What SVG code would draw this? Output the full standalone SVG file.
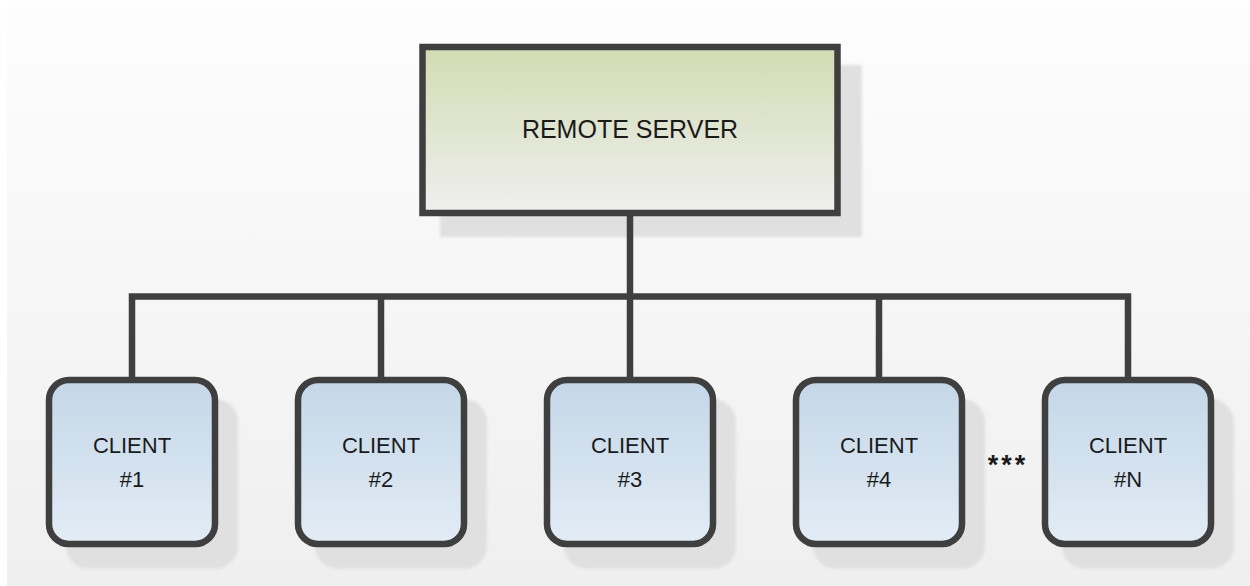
<svg xmlns="http://www.w3.org/2000/svg" width="1250" height="586" viewBox="0 0 1250 586">
<defs>
<linearGradient id="bg" x1="0" y1="0" x2="0" y2="1"><stop offset="0" stop-color="#fdfdfd"/><stop offset="1" stop-color="#efefef"/></linearGradient>
<linearGradient id="gServer" x1="0" y1="0" x2="0" y2="1"><stop offset="0" stop-color="#d2dcb2"/><stop offset="1" stop-color="#efefef"/></linearGradient>
<linearGradient id="gClient" x1="0" y1="0" x2="0" y2="1"><stop offset="0" stop-color="#c4d7e8"/><stop offset="1" stop-color="#e2ecf5"/></linearGradient>
<filter id="soft" x="-10%" y="-10%" width="120%" height="120%"><feGaussianBlur stdDeviation="1.5"/></filter>
</defs>
<style>
.shadow{fill:#e0e0e0;filter:url(#soft)}
.box{stroke:#3f3f3f;stroke-width:6.5}
.server{fill:url(#gServer)}
.client{fill:url(#gClient)}
.lbl{font-family:"Liberation Sans",Arial,sans-serif;fill:#1a1a1a;text-anchor:middle}
.conn{fill:none;stroke:#3f3f3f;stroke-width:6.5;stroke-linecap:butt;stroke-linejoin:miter}
</style>
<rect x="0" y="0" width="1250" height="586" fill="#ffffff"/>
<rect x="7" y="7" width="1243" height="579" fill="url(#bg)"/>

<g id="server">
<rect class="shadow" x="440" y="65" width="422" height="172"/>
<rect class="box server" x="422.5" y="47" width="415" height="166"/>
<text class="lbl" x="630" y="138" font-size="25">REMOTE SERVER</text>
</g>

<g id="client1">
<rect class="shadow" x="66" y="399" width="172" height="170" rx="23"/>
<rect class="box client" x="49" y="380" width="166" height="164" rx="20"/>
<text class="lbl" x="132" y="453" font-size="22">CLIENT</text>
<text class="lbl" x="132" y="487" font-size="22">#1</text>
</g>
<g id="client2">
<rect class="shadow" x="315" y="399" width="172" height="170" rx="23"/>
<rect class="box client" x="298" y="380" width="166" height="164" rx="20"/>
<text class="lbl" x="381" y="453" font-size="22">CLIENT</text>
<text class="lbl" x="381" y="487" font-size="22">#2</text>
</g>
<g id="client3">
<rect class="shadow" x="564" y="399" width="172" height="170" rx="23"/>
<rect class="box client" x="547" y="380" width="166" height="164" rx="20"/>
<text class="lbl" x="630" y="453" font-size="22">CLIENT</text>
<text class="lbl" x="630" y="487" font-size="22">#3</text>
</g>
<g id="client4">
<rect class="shadow" x="813" y="399" width="172" height="170" rx="23"/>
<rect class="box client" x="796" y="380" width="166" height="164" rx="20"/>
<text class="lbl" x="879" y="453" font-size="22">CLIENT</text>
<text class="lbl" x="879" y="487" font-size="22">#4</text>
</g>
<g id="clientN">
<rect class="shadow" x="1062" y="399" width="172" height="170" rx="23"/>
<rect class="box client" x="1045" y="380" width="166" height="164" rx="20"/>
<text class="lbl" x="1128" y="453" font-size="22">CLIENT</text>
<text class="lbl" x="1128" y="487" font-size="22">#N</text>
</g>

<g id="connectors">
<path class="conn" d="M630 213 V296.5"/>
<path class="conn" d="M132 381 V296.5 H1128 V381"/>
<path class="conn" d="M381 296.5 V381"/>
<path class="conn" d="M630 296.5 V381"/>
<path class="conn" d="M879 296.5 V381"/>
</g>

<g id="ellipsis">
<text class="lbl" x="1008" y="474" font-size="27" font-weight="bold" letter-spacing="3">***</text>
</g>
</svg>
